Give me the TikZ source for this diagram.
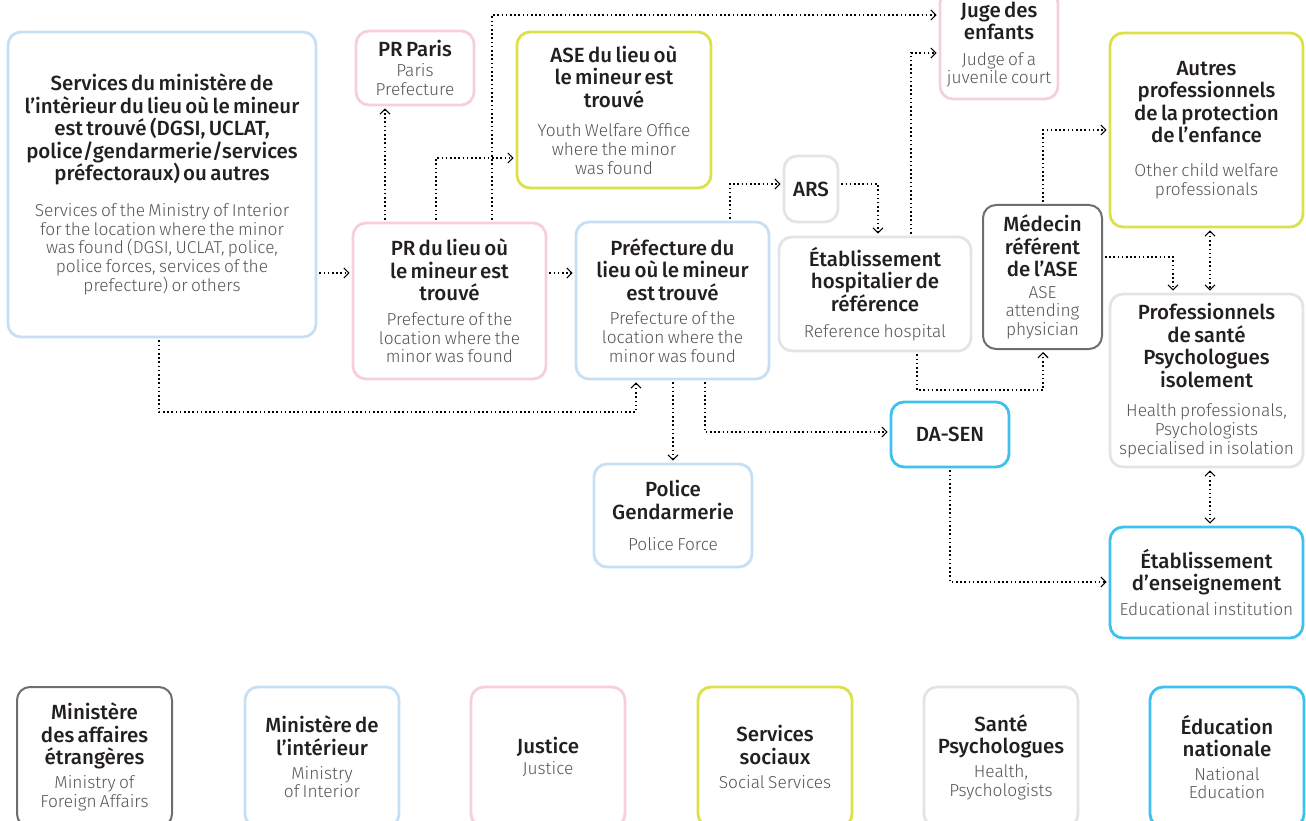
\documentclass[tikz,border=0pt]{standalone}
\usepackage{fontspec}
\setmainfont{Fira Sans}[BoldFont={Fira Sans Medium}]
\newfontfamily\sublight{Fira Sans Light}
\usetikzlibrary{arrows.meta}
\definecolor{cblue}{HTML}{C6DFF5}
\definecolor{cpink}{HTML}{F7CEDF}
\definecolor{cyel}{HTML}{DCE14A}
\definecolor{cgray}{HTML}{E4E4E4}
\definecolor{cdark}{HTML}{6E6E6E}
\definecolor{ccyan}{HTML}{3EC1EE}
\definecolor{tdark}{HTML}{231F20}
\definecolor{tsub}{HTML}{555555}
\newcommand{\bx}[3][8pt]{{\fontsize{20.5}{22.5}\selectfont\bfseries\color{tdark}#2\par}\vspace{#1}{\sublight\fontsize{17.3}{18.7}\selectfont\color{tsub}#3\par}}
\newcommand{\bt}[1]{{\fontsize{20.5}{22.5}\selectfont\bfseries\color{tdark}#1}}
\tikzset{
  box/.style={draw=#1, line width=2.8pt, rounded corners=13pt, align=center, inner sep=0pt},
  sb/.tip={Straight Barb[length=5pt,width=10pt,line width=1.1pt]},
  conn/.style={line width=1.5pt, dash pattern=on 1.5pt off 2.7pt, -sb, shorten <=2pt, shorten >=2pt},
  dconn/.style={line width=1.5pt, dash pattern=on 1.5pt off 2.7pt, sb-sb, shorten <=2pt, shorten >=2pt},
}
\begin{document}
\begin{tikzpicture}[x=1pt,y=-1pt]
\useasboundingbox (0,0) rectangle (1306,821);
% main nodes
\node[box=cblue, minimum width=308pt, minimum height=305pt, text width=304pt] (svc) at (162,184.5)
 {\bx[17pt]{Services du ministère de\\l’intèrieur du lieu où le mineur\\est trouvé (DGSI, UCLAT,\\police/gendarmerie/services\\préfectoraux) ou autres}{Services of the Ministry of Interior\\for the location where the minor\\was found (DGSI, UCLAT, police,\\police forces, services of the\\prefecture) or others}};
\node[box=cpink, minimum width=118pt, minimum height=74pt, text width=116pt] (prparis) at (415,68)
 {\bx[1pt]{PR Paris}{Paris\\Prefecture}};
\node[box=cyel, minimum width=194pt, minimum height=156pt, text width=192pt] (ase) at (614,110)
 {\bx[11pt]{ASE du lieu où\\le mineur est\\trouvé}{Youth Welfare Office\\where the minor\\was found}};
\node[box=cpink, minimum width=118pt, minimum height=109pt, text width=116pt] (juge) at (999,44.5)
 {\bx[7pt]{Juge des\\enfants}{Judge of a\\juvenile court}};
\node[box=cyel, minimum width=193pt, minimum height=194pt, text width=191pt] (autres) at (1206.5,130)
 {\bx[15pt]{Autres\\professionnels\\de la protection\\de l’enfance}{Other child welfare\\professionals}};
\node[box=cgray, minimum width=54pt, minimum height=66pt, text width=52pt] (ars) at (811,189) {\bt{ARS}};
\node[box=cpink, minimum width=193pt, minimum height=156pt, text width=191pt] (prlieu) at (449.5,301)
 {\bx[6pt]{PR du lieu où\\le mineur est\\trouvé}{Prefecture of the\\location where the\\minor was found}};
\node[box=cblue, minimum width=193pt, minimum height=157pt, text width=191pt] (pref) at (672.5,300.5)
 {\bx[6pt]{Préfecture du\\lieu où le mineur\\est trouvé}{Prefecture of the\\location where the\\minor was found}};
\node[box=cgray, minimum width=192pt, minimum height=114pt, text width=190pt] (hosp) at (875,294)
 {\bx[7pt]{Établissement\\hospitalier de\\référence}{Reference hospital}};
\node[box=cdark, line width=2pt, minimum width=119pt, minimum height=144pt, text width=117pt] (med) at (1042.5,277)
 {\bx[3pt]{Médecin\\référent\\de l’ASE}{ASE\\attending\\physician}};
\node[box=cgray, minimum width=193pt, minimum height=173pt, text width=191pt] (prof) at (1206.5,380.5)
 {\bx[11pt]{Professionnels\\de santé\\Psychologues\\isolement}{Health professionals,\\Psychologists\\specialised in isolation}};
\node[box=ccyan, minimum width=118pt, minimum height=65pt, text width=114pt] (dasen) at (950,434.5) {\bt{DA-SEN}};
\node[box=cblue, minimum width=158pt, minimum height=103pt, text width=156pt] (police) at (673,515.5)
 {\bx[12pt]{Police\\Gendarmerie}{Police Force}};
\node[box=ccyan, minimum width=193pt, minimum height=111pt, text width=191pt] (educ) at (1206.5,582.5)
 {\bx[6pt]{Établissement\\d’enseignement}{Educational institution}};
% legend
\node[box=cdark, line width=2pt, minimum width=155pt, minimum height=140pt, text width=153pt] (lg1) at (94.5,757)
 {\bx[5pt]{Ministère\\des affaires\\étrangères}{Ministry of\\Foreign Affairs}};
\node[box=cblue, minimum width=154pt, minimum height=140pt, text width=152pt] (lg2) at (322,757)
 {\bx[5pt]{Ministère de\\l’intérieur}{Ministry\\of Interior}};
\node[box=cpink, minimum width=154pt, minimum height=140pt, text width=152pt] (lg3) at (548,757)
 {\bx[3pt]{Justice}{Justice}};
\node[box=cyel, minimum width=154pt, minimum height=140pt, text width=152pt] (lg4) at (775,757)
 {\bx[5pt]{Services\\sociaux}{Social Services}};
\node[box=cgray, minimum width=154pt, minimum height=140pt, text width=152pt] (lg5) at (1001,757)
 {\bx[5pt]{Santé\\Psychologues}{Health,\\Psychologists}};
\node[box=ccyan, minimum width=154pt, minimum height=140pt, text width=152pt] (lg6) at (1227,757)
 {\bx[5pt]{Éducation\\nationale}{National\\Education}};
% connectors
\draw[conn] (svc.east |- 0,273) -- (prlieu.west |- 0,273);
\draw[conn] (prlieu.east |- 0,273) -- (pref.west |- 0,273);
\draw[conn] (prlieu.north -| 385,0) -- (prparis.south -| 385,0);
\draw[conn] (prlieu.north -| 436,0) |- (ase.west |- 0,158);
\draw[conn] (prlieu.north -| 492,0) |- (juge.west |- 0,15);
\draw[conn] (pref.north -| 730,0) |- (ars.west |- 0,184);
\draw[conn] (ars.east |- 0,184) -| (hosp.north -| 878,0);
\draw[conn] (hosp.north -| 911,0) |- (juge.west |- 0,53);
\coordinate (c1) at (917,390);
\draw[conn] (hosp.south -| c1) -- (c1) -| (med.south -| 1043,0);
\draw[conn] (med.north -| 1043,0) |- (autres.west |- 0,130);
\draw[conn] (med.east |- 0,257) -| (prof.north -| 1173,0);
\draw[dconn] (autres.south -| 1210,0) -- (prof.north -| 1210,0);
\draw[dconn] (prof.south -| 1210,0) -- (educ.north -| 1210,0);
\coordinate (c2) at (159,412);
\draw[conn] (svc.south -| c2) -- (c2) -| (pref.south -| 636,0);
\draw[conn] (pref.south -| 673,0) -- (police.north -| 673,0);
\draw[conn] (pref.south -| 705,0) |- (dasen.west |- 0,432);
\draw[conn] (dasen.south -| 950,0) |- (educ.west |- 0,582);
\end{tikzpicture}
\end{document}
